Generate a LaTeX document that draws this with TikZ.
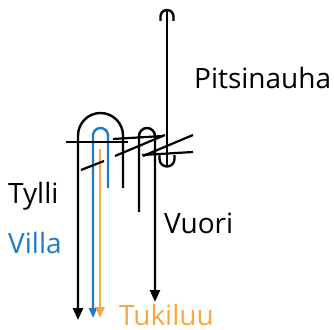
\documentclass[tikz,border=0pt]{standalone}
\usepackage{fontspec}
\setmainfont{Open Sans}
\usetikzlibrary{arrows.meta}
\definecolor{villablue}{HTML}{1E7BC8}
\definecolor{tukiorange}{HTML}{F9A840}
\tikzset{
  thread/.style={line width=2.4pt, draw=black},
  bigtip/.style={-{Triangle[length=12pt,width=10pt]}},
  stitch/.style={line width=2.2pt, draw=black},
  lbl/.style={anchor=base west, inner sep=0pt, font=\fontsize{28}{32}\selectfont}
}
\begin{document}
\begin{tikzpicture}[x=1pt,y=-1pt]
\useasboundingbox (0,0) rectangle (334,329);
% coordinates
\coordinate (bigR) at (123,188);
\coordinate (bigL) at (78,320);
\coordinate (blueR) at (108,188);
\coordinate (blueL) at (93,318);
\coordinate (orTop) at (100,149);
\coordinate (orEnd) at (100,318);
\coordinate (smL) at (139,212);
\coordinate (smR) at (155,302);
\coordinate (pTop) at (167,10);
\coordinate (pBot) at (167,166.5);
% Tylli (big arch)
\draw[thread,bigtip] (bigR) -- (123,135.5) arc[start angle=0,end angle=180,radius=22.5pt] -- (bigL);
% Villa (blue)
\draw[thread,draw=villablue,-{Triangle[length=10pt,width=8pt,fill=villablue]}] (blueR) -- (108,135.5) arc[start angle=0,end angle=180,radius=7.5pt] -- (blueL);
% Tukiluu (orange)
\draw[thread,draw=tukiorange,-{Triangle[length=11pt,width=9pt,fill=tukiorange]}] (orTop) -- (orEnd);
% Vuori (small arch)
\draw[thread,bigtip] (smL) -- (139,136) arc[start angle=180,end angle=0,radius=8pt] -- (smR);
% Pitsinauha
\draw[thread] (pTop) -- (pBot);
\draw[thread] (160.5,21) -- (160.5,16.5) arc[start angle=180,end angle=0,radius=6.5pt] -- (173.5,21);
\draw[thread] (159.5,155) -- (159.5,159) arc[start angle=180,end angle=360,radius=7.5pt] -- (174.5,155);
% stitches
\coordinate (a1) at (66,142); \coordinate (a2) at (128,142);
\coordinate (b1) at (81,170); \coordinate (b2) at (104,161);
\coordinate (c1) at (113,139); \coordinate (c2) at (163,136);
\coordinate (d1) at (115,156); \coordinate (d2) at (165,135);
\coordinate (e1) at (143,156); \coordinate (e2) at (193,135);
\coordinate (f1) at (142,155); \coordinate (f2) at (193,152);
\draw[stitch] (a1) -- (a2);
\draw[stitch] (b1) -- (b2);
\draw[stitch] (c1) -- (c2);
\draw[stitch] (d1) -- (d2);
\draw[stitch] (e1) -- (e2);
\draw[stitch] (f1) -- (f2);
% labels
\node[lbl] (pits) at (194,88) {Pitsinauha};
\node[lbl] (tylli) at (8,203) {Tylli};
\node[lbl,text=villablue] (villa) at (8,253) {Villa};
\node[lbl] (vuori) at (164,233) {Vuori};
\node[lbl,text=tukiorange] (tuki) at (119,325) {Tukiluu};
\end{tikzpicture}
\end{document}
